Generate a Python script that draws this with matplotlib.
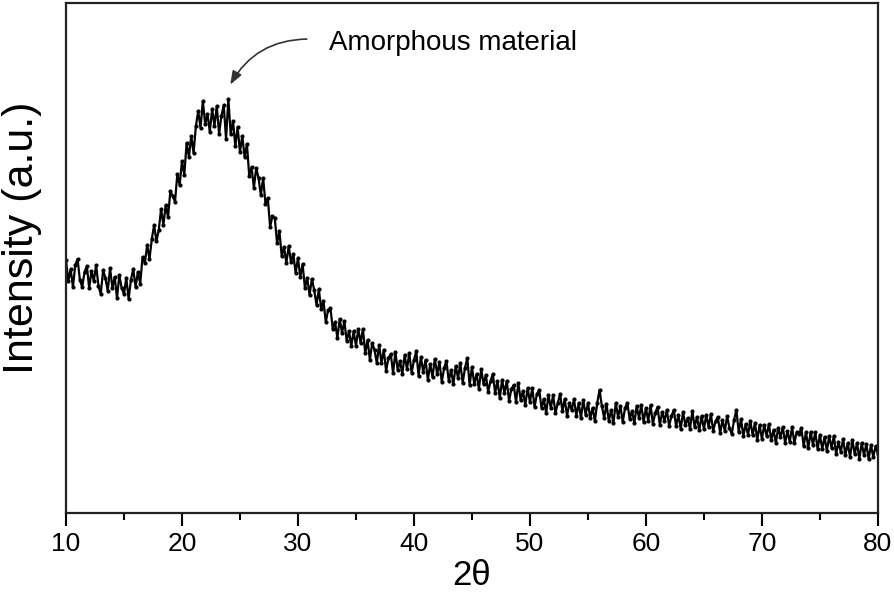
import numpy as np
import matplotlib
matplotlib.use("Agg")
import matplotlib.pyplot as plt

plt.rcParams['font.family'] = ['Liberation Sans', 'DejaVu Sans']

# XRD scan (intensity in arbitrary units), 0.2 deg step
two_theta_start = 10
two_theta_end = 80
intensity = [
    # 10.0 - 14.8
    253, 232, 244, 226, 248, 254, 233, 226, 241, 247, 225, 242, 232, 248, 227,
    219, 243, 235, 222, 245, 225, 236, 215, 238, 225,
    # 15.0 - 19.8
    219, 235, 214, 233, 244, 226, 241, 229, 256, 250, 268, 254, 274, 288, 272,
    283, 304, 288, 308, 296, 322, 317, 311, 339, 328,
    # 20.0 - 24.8
    352, 338, 370, 356, 377, 360, 387, 402, 385, 412, 389, 399, 381, 404, 387,
    407, 379, 397, 408, 374, 414, 379, 392, 367, 386,
    # 25.0 - 29.8
    361, 377, 356, 369, 337, 346, 325, 345, 335, 318, 335, 309, 315, 286, 297,
    295, 270, 282, 257, 266, 250, 267, 251, 259, 240,
    # 30.0 - 34.8
    255, 236, 249, 225, 235, 218, 234, 223, 208, 224, 204, 212, 191, 203, 205,
    184, 191, 175, 194, 180, 192, 172, 182, 167, 182,
    # 35.0 - 39.8
    167, 184, 170, 184, 160, 173, 153, 170, 163, 150, 168, 150, 163, 142, 155,
    159, 140, 161, 143, 152, 139, 158, 144, 160, 140,
    # 40.0 - 44.8
    153, 162, 137, 156, 141, 153, 133, 149, 136, 154, 139, 151, 131, 145, 152,
    132, 143, 129, 147, 135, 150, 130, 145, 155, 128,
    # 45.0 - 49.8
    146, 129, 139, 124, 144, 129, 138, 121, 132, 139, 120, 132, 115, 133, 120,
    132, 112, 124, 128, 111, 130, 113, 122, 108, 125,
    # 50.0 - 54.8
    111, 125, 106, 119, 123, 105, 114, 100, 118, 105, 118, 100, 110, 119, 102,
    114, 97, 110, 103, 114, 97, 110, 95, 113, 98,
    # 55.0 - 59.8
    110, 95, 105, 92, 110, 123, 107, 95, 109, 92, 103, 90, 110, 96, 107,
    91, 105, 110, 94, 102, 90, 107, 95, 108, 91,
    # 60.0 - 64.8
    105, 92, 108, 89, 100, 106, 88, 101, 92, 103, 87, 97, 103, 87, 98,
    84, 101, 88, 95, 84, 102, 86, 96, 83, 97,
    # 65.0 - 69.8
    84, 98, 86, 99, 82, 92, 96, 80, 93, 82, 97, 85, 79, 93, 103,
    81, 94, 77, 89, 78, 92, 78, 90, 73, 88,
    # 70.0 - 74.8
    74, 88, 77, 89, 73, 83, 70, 85, 76, 86, 70, 82, 71, 86, 70,
    81, 79, 85, 67, 81, 65, 81, 68, 81, 64,
    # 75.0 - 79.8
    78, 64, 76, 62, 77, 65, 77, 59, 71, 61, 74, 58, 70, 56, 73,
    59, 70, 54, 70, 58, 69, 54, 68, 56, 67,
    # 80.0
    59,
]
two_theta = np.linspace(two_theta_start, two_theta_end, len(intensity))

x_ticks = [10, 20, 30, 40, 50, 60, 70, 80]

fig = plt.figure(figsize=(8.94, 5.93), dpi=100)
ax = fig.add_axes([0.0738, 0.1349, 0.9082, 0.86])

ax.plot(two_theta, intensity, color='black', lw=1.6, marker='o',
        markersize=3, markeredgewidth=0)

ax.set_xlim(10, 80)
ax.set_ylim(0, 510)
ax.set_xticks(x_ticks)
ax.set_xticks(np.arange(15, 80, 10), minor=True)
ax.set_yticks([])
ax.tick_params(axis='x', which='major', direction='out', length=9, width=1.5,
               labelsize=19, pad=5)
ax.tick_params(axis='x', which='minor', direction='out', length=5, width=1.5)
for sp in ax.spines.values():
    sp.set_linewidth(1.6)
    sp.set_color('#222222')

ax.set_xlabel('2θ', fontsize=25, labelpad=2)
ax.set_ylabel('Intensity (a.u.)', fontsize=31)
ax.yaxis.set_label_coords(-0.030, 0.54)

# annotation with curved arrow
ax.text(32.7, 470, 'Amorphous material', fontsize=20, va='center', ha='left')
ax.annotate('', xy=(24.05, 426), xytext=(31.0, 474),
            arrowprops=dict(arrowstyle='-|>,head_length=0.8,head_width=0.3',
                            color='#333333', lw=1.2,
                            connectionstyle='arc3,rad=0.3'))

plt.savefig('out.png', dpi=100)
